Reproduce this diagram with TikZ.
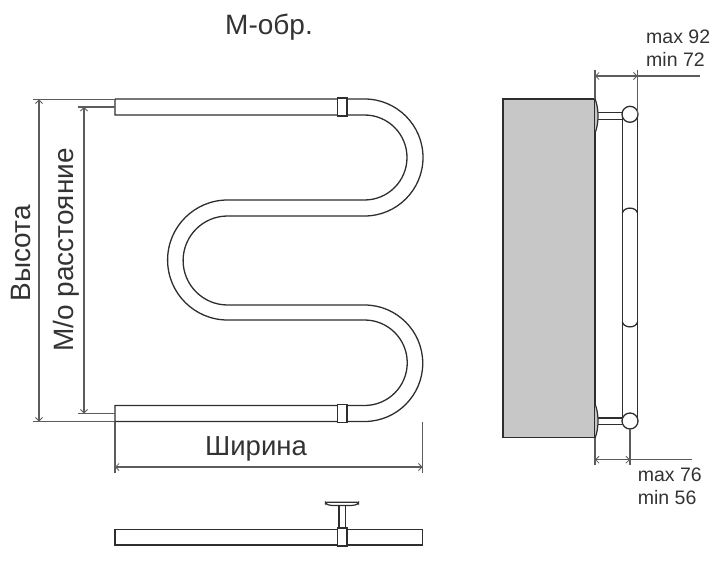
\documentclass[tikz,border=0pt]{standalone}
\usepackage{fontspec}
\setmainfont{Liberation Sans}
\usetikzlibrary{arrows.meta}
\definecolor{ink}{gray}{0.18}
\definecolor{dimc}{gray}{0.36}
\definecolor{wall}{gray}{0.78}
\tikzset{
  pipe/.style={draw=ink,line width=1.3pt},
  dimline/.style={draw=dimc,line width=1.1pt},
  dimarrow/.style={dimline,{Straight Barb[length=3.5pt,width=7pt,line width=0.8pt]}-{Straight Barb[length=3.5pt,width=7pt,line width=0.8pt]}},
  biglabel/.style={text=black!80,font=\fontsize{28}{30}\selectfont,inner sep=0pt},
  smalllabel/.style={text=black!80,font=\fontsize{19.5}{22.5}\selectfont,inner sep=0pt,anchor=base west}
}
\begin{document}
\begin{tikzpicture}[x=1pt,y=1pt,yscale=-1]
\useasboundingbox (0,0) rectangle (720,564);
% front view: serpentine tube
\draw[pipe] (115,99) -- (364.5,99) arc[start angle=-90,end angle=90,radius=58.5pt]
  -- (227.6,216) arc[start angle=-90,end angle=-270,radius=44.5pt]
  -- (364.5,305) arc[start angle=-90,end angle=90,radius=58.25pt]
  -- (115,421.5);
\draw[pipe] (115,99) -- (115,115) -- (364.5,115) arc[start angle=-90,end angle=90,radius=42.5pt]
  -- (227.6,200) arc[start angle=-90,end angle=-270,radius=60pt]
  -- (364.5,320) arc[start angle=-90,end angle=90,radius=42.75pt]
  -- (115,405.5) -- (115,421.5);
\draw[pipe,fill=white,line width=1.1pt] (337.5,98) rectangle (347,116);
\draw[pipe,fill=white,line width=1.1pt] (337.5,404.5) rectangle (347,422.5);
% height dimensions
\coordinate (hT) at (39,99.5);  \coordinate (hB) at (39,421.5);
\coordinate (mT) at (84,107);   \coordinate (mB) at (84,413.5);
\coordinate (wL) at (115,467);  \coordinate (wR) at (422.5,467);
\draw[dimline] (33,99.5) -- (115,99.5);
\draw[dimline] (33,421.5) -- (115,421.5);
\draw[dimline] (78,107) -- (115,107);
\draw[dimline] (78,413.5) -- (115,413.5);
\draw[dimarrow] (hT) -- (hB);
\draw[dimarrow] (mT) -- (mB);
\draw[dimline] (115,421.5) -- (115,473);
\draw[dimline] (422.5,421.5) -- (422.5,473);
\draw[dimarrow] (wL) -- (wR);
\node[biglabel,rotate=90] (vys) at (21,253.5) {Высота};
\node[biglabel,rotate=90] (mo) at (66,250) {М/о расстояние};
\node[biglabel,font=\fontsize{27.5}{30}\selectfont] (shir) at (256,449) {Ширина};
\node[biglabel] (title) at (269,27) {М-обр.};
% side view
\draw[ink,line width=1.4pt,fill=wall] (503,99) rectangle (595,437.5);
\draw[ink,line width=1.2pt,fill=wall] (595,99) .. controls (599,108) and (599,124) .. (595,133);
\draw[ink,line width=1.2pt,fill=wall] (595,404) .. controls (599,413) and (599,429) .. (595,438);
\draw[pipe] (622.3,114) -- (622.3,421);
\draw[pipe] (637.5,114) -- (637.5,421);
\draw[pipe] (622.3,213) .. controls (624,206.5) and (636,206.5) .. (637.5,213);
\draw[pipe] (622.3,322) .. controls (624,328.5) and (636,328.5) .. (637.5,322);
\draw[pipe,line width=1.1pt] (598,112.7) -- (622,112.7) (598,119.3) -- (622,119.3);
\draw[pipe,line width=1.1pt] (598,418) -- (622,418) (598,424.3) -- (622,424.3);
\node[circle,draw=ink,line width=1.3pt,fill=white,minimum size=16pt,inner sep=0pt] (cT) at (630,114.3) {};
\node[circle,draw=ink,line width=1.3pt,fill=white,minimum size=16pt,inner sep=0pt] (cB) at (630,421) {};
% side dimensions
\draw[dimline] (595,70) -- (595,99);
\draw[dimline] (637.5,70) -- (637.5,114);
\draw[dimarrow] (595,76) -- (637.5,76);
\draw[dimline] (637.5,76) -- (700,76);
\draw[dimline] (595,438) -- (595,465);
\draw[dimline] (630,429) -- (630,465);
\draw[dimarrow] (595,459.7) -- (630,459.7);
\draw[dimline] (630,459.7) -- (692,459.7);
\node[smalllabel] (a1) at (646,44) {max 92};
\node[smalllabel] (a2) at (646,66.7) {min 72};
\node[smalllabel] (b1) at (637.7,481) {max 76};
\node[smalllabel] (b2) at (637.7,504) {min 56};
% plan view
\draw[pipe] (115,529.3) rectangle (422.5,545);
\draw[pipe,fill=white,line width=1.1pt] (339,505) rectangle (345.7,529);
\draw[pipe,fill=white,line width=1.1pt] (337.7,528) rectangle (347,546);
\draw[ink,line width=1.2pt,fill=white,rounded corners=1.6pt] (325.5,502.2) -- (358.5,502.2) -- (358.5,504) -- (353,505.5) -- (331,505.5) -- (325.5,504) -- cycle;
\end{tikzpicture}
\end{document}
